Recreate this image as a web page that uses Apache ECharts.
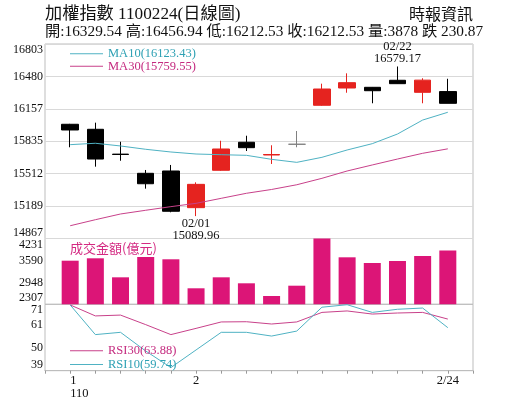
<!DOCTYPE html>
<html><head><meta charset="utf-8">
<script src="https://cdn.jsdelivr.net/npm/echarts@6/dist/echarts.min.js"></script>
<style>html,body{margin:0;padding:0;background:#fff}#c{width:515px;height:413px}</style>
</head><body><div id="c"></div>
<script>
// ---- data ----
const dates = ['01/25','01/26','01/27','01/28','01/29','02/01','02/02','02/03','02/04','02/05','02/17','02/18','02/19','02/22','02/23','02/24'];
const opens  = [16004, 15954, 15707, 15516, 15539, 15174, 15546, 15825, 15698, 15805, 16193, 16365, 16372, 16442, 16322, 16329.54];
const closes = [15947, 15658, 15703, 15412, 15138, 15406, 15758, 15771, 15703, 15805, 16355, 16418, 16338, 16408, 16443.40, 16212.53];
const lows   = [15775, 15582, 15641, 15363, 15128, 15089.96, 15540, 15738, 15609, 15775, 16188, 16318, 16213, 16405, 16213, 16212.53];
const highs  = [16008, 16020, 15830, 15549, 15599, 15426, 15840, 15890, 15795, 15937, 16408, 16511, 16375, 16579.17, 16462, 16456.94];
const volumes = [3582, 3652, 3096, 3690, 3623, 2775, 3096, 2921, 2550, 2851, 4231, 3681, 3515, 3573, 3719, 3878];
const ma10 = [15801, 15815, 15788, 15755, 15728, 15708, 15701, 15695, 15655, 15625, 15675, 15748, 15811, 15907, 16046, 16123.43];
const ma30 = [14994, 15054, 15111, 15148, 15184, 15217, 15267, 15317, 15355, 15402, 15466, 15539, 15599, 15658, 15715, 15759.55];
const rsi30 = [70.7, 65.4, 65.8, 61.2, 56.4, 59.4, 62.5, 62.6, 61.5, 62.5, 67.1, 67.8, 66.3, 66.8, 67.1, 63.88];
const rsi10 = [70.7, 56.4, 57.5, 48.5, 40.5, 49.0, 57.5, 57.5, 55.7, 58.1, 69.6, 70.8, 67.1, 68.6, 69.2, 59.74];
const priceTicks = [14867, 15189, 15512, 15835, 16157, 16480, 16803];
const volumeTicks = [2307, 2948, 3590, 4231];
const rsiTicks = [39, 50, 61, 71];
const xTickLabels = ['1\n110','','','','','2','','','','','','','','','','2/24'];

// ---- build ----
const SERIF = '"Liberation Serif","Noto Sans CJK TC",serif';
const CYAN = '#4fb2c3', MAG = '#c8418a', RED = '#e5231f', PINK = '#dc1577';
const pad = a => ['-', ...a, '-'];
const cats = [' ', ...dates, '  '];
const last = a => a[a.length - 1];
const n = dates.length;
const candles = dates.map((d, i) => [opens[i], closes[i], lows[i], highs[i]]);
const hi = highs.indexOf(Math.max(...highs));
const lo = lows.indexOf(Math.min(...lows));
const chg = closes[n - 1] - closes[n - 2];
const header = '開:' + opens[n-1].toFixed(2) + ' 高:' + highs[n-1].toFixed(2) + ' 低:' + lows[n-1].toFixed(2) +
  ' 收:' + closes[n-1].toFixed(2) + ' 量:' + volumes[n-1] + ' ' + (chg < 0 ? '跌' : '漲') + ' ' + Math.abs(chg).toFixed(2);
const lastVals = {MA10: last(ma10), MA30: last(ma30), RSI30: last(rsi30), RSI10: last(rsi10)};

const gridBase = {left: 45, right: 42, show: true, borderColor: '#bdbdbd', borderWidth: 1};
const xBase = (i) => ({
  type: 'category', gridIndex: i, boundaryGap: false,
  data: i === 2 ? cats.map((c, k) => k === 1 ? {value: c, textStyle: {align: 'left'}} : c) : cats,
  axisLine: {show: i === 2, lineStyle: {color: '#bdbdbd'}},
  axisTick: {show: i === 2, interval: 0, length: 3, lineStyle: {color: '#999'}},
  axisLabel: {show: i === 2, interval: 0, margin: 3, fontFamily: SERIF, fontSize: 12.5, lineHeight: 13.3, color: '#111',
    formatter: (v, idx) => (idx >= 1 && idx <= n) ? xTickLabels[idx - 1] : ''},
  splitLine: {show: false}
});
const yBase = (i, min, max, ticks, split) => ({
  type: 'value', gridIndex: i, min: min, max: max, scale: true,
  axisLine: {show: false},
  axisTick: {show: false, customValues: ticks},
  axisLabel: {customValues: ticks, margin: 2, fontFamily: SERIF, fontSize: 12, color: '#111',
    formatter: v => String(Math.round(v)),
    verticalAlignMinLabel: 'bottom', verticalAlignMaxLabel: 'top'},
  splitLine: {show: split, lineStyle: {color: '#d9d9d9'}}
});
const markLabel = {fontFamily: SERIF, fontSize: 12.5, lineHeight: 12.6, color: '#111'};

const option = {
  animation: false,
  backgroundColor: '#fff',
  title: [
    {text: '加權指數 1100224(日線圖)', left: 45, top: 6, padding: 0,
      textStyle: {fontFamily: SERIF, fontSize: 17.2, fontWeight: 'normal', color: '#111', lineHeight: 17}},
    {text: '時報資訊', right: 42, top: 8, padding: 0,
      textStyle: {fontFamily: SERIF, fontSize: 16, fontWeight: 'normal', color: '#111', lineHeight: 16}},
    {text: header, left: 45, top: 24, padding: 0,
      textStyle: {fontFamily: SERIF, fontSize: 15.3, fontWeight: 'normal', color: '#111', lineHeight: 16}},
    {text: '成交金額(億元)', left: 70, top: 242, padding: 0,
      textStyle: {fontFamily: '"Noto Sans CJK TC",sans-serif', fontSize: 13, fontWeight: 'normal', color: '#d42a82', lineHeight: 13}}
  ],
  legend: [
    {data: [{name: 'MA10', textStyle: {color: '#2ea1b4'}}, {name: 'MA30', textStyle: {color: '#c42a7f'}}],
      orient: 'vertical', left: 70, top: 47.5, itemWidth: 33, itemHeight: 1, itemGap: 0, icon: 'rect', padding: 0,
      selectedMode: false, formatter: nm => nm + '(' + lastVals[nm].toFixed(2) + ')',
      textStyle: {fontFamily: SERIF, fontSize: 12.5, lineHeight: 11.7}},
    {data: [{name: 'RSI30', textStyle: {color: '#c42a7f'}}, {name: 'RSI10', textStyle: {color: '#2ea1b4'}}],
      orient: 'vertical', left: 70, top: 344.5, itemWidth: 33, itemHeight: 1, itemGap: 1.3, icon: 'rect', padding: 0,
      selectedMode: false, formatter: nm => nm + '(' + lastVals[nm].toFixed(2) + ')',
      textStyle: {fontFamily: SERIF, fontSize: 12.5, lineHeight: 12}}
  ],
  grid: [
    Object.assign({top: 44, height: 194.5}, gridBase),
    Object.assign({top: 238.5, height: 65.8}, gridBase),
    Object.assign({top: 304.3, height: 66.4}, gridBase)
  ],
  xAxis: [xBase(0), xBase(1), xBase(2)],
  yAxis: [
    yBase(0, priceTicks[0], last(priceTicks), priceTicks, true),
    yBase(1, volumeTicks[0], last(volumeTicks), volumeTicks, false),
    yBase(2, rsiTicks[0], last(rsiTicks), rsiTicks, false)
  ],
  series: [
    {name: 'K', type: 'candlestick', xAxisIndex: 0, yAxisIndex: 0, data: pad(candles), barWidth: 17,
      itemStyle: {color: RED, color0: '#000', borderColor: RED, borderColor0: '#000', borderColorDoji: '#808080', borderWidth: 1},
      markPoint: {symbol: 'circle', symbolSize: 0, silent: true,
        data: [
          {coord: [dates[hi], highs[hi]], value: highs[hi],
            label: Object.assign({position: 'top', distance: 1, formatter: dates[hi] + '\n' + highs[hi].toFixed(2)}, markLabel)},
          {coord: [dates[lo], lows[lo]], value: lows[lo],
            label: Object.assign({position: 'bottom', distance: 1, formatter: dates[lo] + '\n' + lows[lo].toFixed(2)}, markLabel)}
        ]}},
    {name: 'MA10', type: 'line', xAxisIndex: 0, yAxisIndex: 0, data: pad(ma10), symbol: 'none',
      itemStyle: {color: CYAN}, lineStyle: {color: CYAN, width: 1}},
    {name: 'MA30', type: 'line', xAxisIndex: 0, yAxisIndex: 0, data: pad(ma30), symbol: 'none',
      itemStyle: {color: MAG}, lineStyle: {color: MAG, width: 1}},
    {name: 'VOL', type: 'bar', xAxisIndex: 1, yAxisIndex: 1, data: pad(volumes), barWidth: 17,
      itemStyle: {color: PINK}},
    {name: 'RSI30', type: 'line', xAxisIndex: 2, yAxisIndex: 2, data: pad(rsi30), symbol: 'none',
      itemStyle: {color: MAG}, lineStyle: {color: MAG, width: 1}},
    {name: 'RSI10', type: 'line', xAxisIndex: 2, yAxisIndex: 2, data: pad(rsi10), symbol: 'none',
      itemStyle: {color: CYAN}, lineStyle: {color: CYAN, width: 1}}
  ]
};
const chart = echarts.init(document.getElementById('c'), null, {renderer: 'canvas'});
chart.setOption(option);
</script>
</body></html>
